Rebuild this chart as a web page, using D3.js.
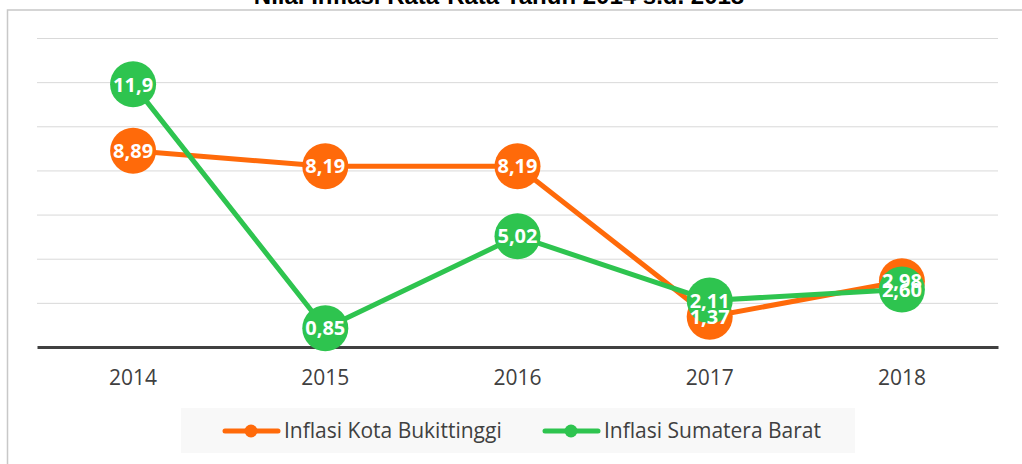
<!DOCTYPE html>
<html>
<head>
<meta charset="utf-8">
<script src="https://cdn.jsdelivr.net/npm/d3@7"></script>
<style>
  body { margin: 0; background: #fff; }
  svg { display: block; }
</style>
</head>
<body>
<script>
const years = ['2014', '2015', '2016', '2017', '2018'];
const bukittinggi = [8.89, 8.19, 8.19, 1.37, 2.98];
const sumbar = [11.9, 0.85, 5.02, 2.11, 2.60];
const bukittinggiLabels = ['8,89', '8,19', '8,19', '1,37', '2,98'];
const sumbarLabels = ['11,9', '0,85', '5,02', '2,11', '2,60'];
const yTicks = [2, 4, 6, 8, 10, 12, 14];

const width = 1022;
const height = 464;
const plot = { left: 37, right: 998, top: 38, bottom: 347 };

const svg = d3.select('body').append('svg')
  .attr('width', width)
  .attr('height', height);

// chart frame (right and bottom edges fall outside the picture)
svg.append('rect')
  .attr('x', 7.5).attr('y', 10)
  .attr('width', 1030).attr('height', 470)
  .attr('fill', '#fff')
  .attr('stroke', '#c8c8c8')
  .attr('stroke-width', 1.5);

// title, mostly cut off at the top
svg.append('text')
  .attr('x', 499).attr('y', 4)
  .attr('text-anchor', 'middle')
  .attr('font-family', 'Liberation Sans, Arial, sans-serif')
  .attr('font-weight', 'bold')
  .attr('font-size', 24)
  .attr('fill', '#000')
  .text('Nilai Inflasi Rata-Rata Tahun  2014 s.d. 2018');

const x = d3.scaleBand()
  .domain(years)
  .range([plot.left, plot.right]);

const y = d3.scaleLinear()
  .domain([0, 14])
  .range([plot.bottom, plot.top]);

// gridlines
svg.append('g')
  .selectAll('line')
  .data(yTicks)
  .join('line')
  .attr('x1', plot.left).attr('x2', plot.right)
  .attr('y1', d => y(d) + 0.5).attr('y2', d => y(d) + 0.5)
  .attr('stroke', '#d9d9d9')
  .attr('stroke-width', 1);

// x axis
const xAxis = svg.append('g')
  .attr('transform', `translate(0,${plot.bottom})`)
  .call(d3.axisBottom(x).tickSize(0).tickPadding(23));
xAxis.select('.domain')
  .attr('stroke', '#404040')
  .attr('stroke-width', 3);
xAxis.selectAll('text')
  .attr('font-family', 'Open Sans, sans-serif')
  .attr('font-size', 21)
  .attr('fill', '#404040');

const cx = d => x(d) + x.bandwidth() / 2;

const series = [
  { values: bukittinggi, labels: bukittinggiLabels, color: '#ff6a0a', name: 'Inflasi Kota Bukittinggi' },
  { values: sumbar, labels: sumbarLabels, color: '#2ec44f', name: 'Inflasi Sumatera Barat' }
];

const line = d3.line()
  .x((d, i) => cx(years[i]))
  .y(d => y(d));

series.forEach(s => {
  svg.append('path')
    .datum(s.values)
    .attr('d', line)
    .attr('fill', 'none')
    .attr('stroke', s.color)
    .attr('stroke-width', 5)
    .attr('stroke-linejoin', 'round');

  svg.append('g')
    .selectAll('circle')
    .data(s.values)
    .join('circle')
    .attr('cx', (d, i) => cx(years[i]))
    .attr('cy', d => y(d))
    .attr('r', 23)
    .attr('fill', s.color);
});

series.forEach(s => {
  svg.append('g')
    .selectAll('text')
    .data(s.values)
    .join('text')
    .attr('x', (d, i) => cx(years[i]))
    .attr('y', d => y(d))
    .attr('dy', '0.36em')
    .attr('text-anchor', 'middle')
    .attr('font-family', 'Open Sans, sans-serif')
    .attr('font-weight', 'bold')
    .attr('font-size', 20)
    .attr('fill', '#fff')
    .text((d, i) => s.labels[i]);
});

// legend
const legend = svg.append('g');
legend.append('rect')
  .attr('x', 181).attr('y', 408)
  .attr('width', 674).attr('height', 45)
  .attr('fill', '#f8f8f8');

const legendX = [223, 543];
series.forEach((s, i) => {
  const g = legend.append('g').attr('transform', `translate(${legendX[i]},431)`);
  g.append('line')
    .attr('x1', 2).attr('x2', 55)
    .attr('stroke', s.color)
    .attr('stroke-width', 5)
    .attr('stroke-linecap', 'round');
  g.append('circle')
    .attr('cx', 28).attr('r', 6.5)
    .attr('fill', s.color);
  g.append('text')
    .attr('x', 61)
    .attr('dy', '0.35em')
    .attr('font-family', 'Open Sans, sans-serif')
    .attr('font-size', 21)
    .attr('fill', '#404040')
    .text(s.name);
});
</script>
</body>
</html>
